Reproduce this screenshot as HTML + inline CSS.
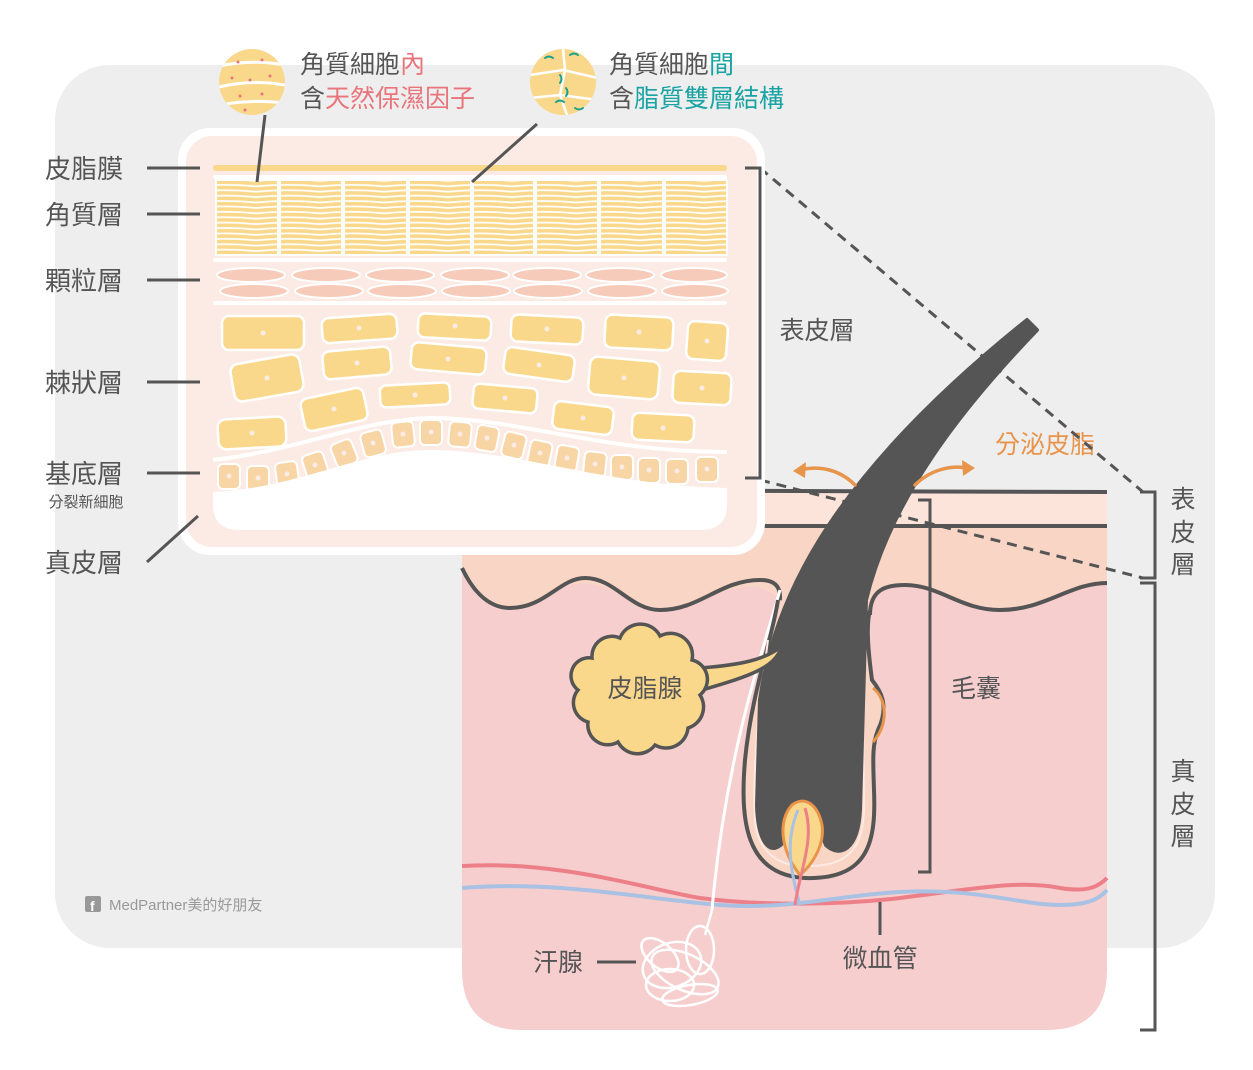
<!DOCTYPE html>
<html><head><meta charset="utf-8"><style>
html,body{margin:0;padding:0;background:#fff}
svg{display:block}
text{font-family:"Liberation Sans","Noto Sans CJK TC",sans-serif;fill:#555}
</style></head><body>
<svg width="1253" height="1070" viewBox="0 0 1253 1070" xmlns="http://www.w3.org/2000/svg">
<defs>
<pattern id="sc" x="0" y="180" width="64" height="5.4" patternUnits="userSpaceOnUse">
<rect width="64" height="5.4" fill="#fff"/>
<path d="M0,3.6 Q32,0.6 64,3.6" stroke="#fad88b" stroke-width="3.6" fill="none"/>
</pattern>
<clipPath id="c1"><circle cx="252" cy="82" r="33"/></clipPath>
<clipPath id="c2"><circle cx="563" cy="82" r="33"/></clipPath>
</defs>
<rect x="55" y="65" width="1160" height="883" rx="55" fill="#eeeeee"/>

<!-- skin block -->
<path d="M462,568 L462,490 L1107,490 L1107,970 Q1107,1030 1047,1030 L522,1030 Q462,1030 462,970 Z" fill="#f6cece"/>
<rect x="462" y="490" width="645" height="36" fill="#fde4da"/>
<path d="M462,526 L1107,526 L1107,583 C1060,585 1040,610 1000,608 C960,606 930,585 900,585 C880,585 872,595 870,610 L780,600 C760,580 740,585 700,600 C680,608 660,615 640,605 C610,590 600,580 570,585 C540,592 530,612 500,605 C480,600 470,580 462,568 Z" fill="#f9d5c5"/>
<path d="M462,568 C470,585 485,608 510,608 C545,608 560,578 585,578 C615,578 630,610 660,610 C700,610 720,580 760,580 C782,580 782,595 778,610" fill="none" stroke="#555" stroke-width="4"/>
<path d="M870,615 C870,590 885,585 905,585 C940,585 960,610 1000,610 C1045,610 1070,583 1107,583" fill="none" stroke="#555" stroke-width="4"/>
<line x1="462" y1="490" x2="1107" y2="492" stroke="#555" stroke-width="4"/>
<line x1="462" y1="526" x2="1107" y2="526" stroke="#555" stroke-width="4"/>

<!-- vessels -->
<path d="M462,866 C560,860 650,890 700,898 C760,906 840,905 900,898 C980,888 1020,880 1060,888 C1090,893 1100,885 1107,878" fill="none" stroke="#ec7f88" stroke-width="4"/>
<path d="M462,888 C560,880 650,900 720,905 C790,910 840,895 900,892 C980,888 1020,905 1060,905 C1090,905 1100,898 1107,890" fill="none" stroke="#a9c1e3" stroke-width="4"/>

<!-- sweat duct -->
<path d="M780,590 C760,660 725,760 712,910" fill="none" stroke="#fff" stroke-width="3"/>
<g fill="none" stroke="#fff" stroke-width="2.5">
<ellipse cx="672" cy="965" rx="30" ry="22" transform="rotate(-20 672 965)"/>
<ellipse cx="685" cy="972" rx="36" ry="18" transform="rotate(25 685 972)"/>
<ellipse cx="670" cy="985" rx="24" ry="16"/>
<ellipse cx="700" cy="950" rx="14" ry="24"/>
<ellipse cx="660" cy="955" rx="22" ry="12" transform="rotate(40 660 955)"/>
<ellipse cx="690" cy="995" rx="28" ry="10" transform="rotate(-10 690 995)"/>
<path d="M712,910 L705,935"/>
</g>

<!-- follicle -->
<path d="M778,600 C772,640 752,690 745,760 C740,820 745,875 805,878 C870,880 876,840 874,790 C873,760 872,745 878,730 C890,705 880,690 872,680 C868,650 866,625 870,610" fill="#f9d5c5" stroke="#555" stroke-width="4"/>
<path d="M768,640 C760,700 752,760 755,820 C758,860 790,868 810,866 C855,866 865,840 864,800 L862,650" fill="none" stroke="#fdeae3" stroke-width="2"/>
<path d="M873,688 C888,700 888,725 873,742" fill="none" stroke="#e8944a" stroke-width="3"/>
<!-- hair -->
<path d="M1027,320 L1037,330 C960,410 890,500 866,600 L860,810 C858,850 840,858 826,845 C815,812 790,812 785,840 C772,858 758,845 757,805 L760,700 C775,590 840,470 1027,320 Z" fill="#555" stroke="#555" stroke-width="4" stroke-linejoin="round"/>
<!-- papilla -->
<path d="M800,875 C780,850 778,820 792,805 C805,795 818,805 822,825 C825,845 812,865 800,875 Z" fill="#fad88b" stroke="#e8944a" stroke-width="3"/>
<path d="M800,905 C790,870 785,840 798,810" fill="none" stroke="#a9c1e3" stroke-width="3"/>
<path d="M795,905 C800,870 815,840 805,808" fill="none" stroke="#ec7f88" stroke-width="3"/>

<!-- sebaceous gland -->
<path d="M700,668 C740,665 765,660 782,646 C775,668 750,676 702,690 Z" fill="#fad88b" stroke="#555" stroke-width="3.5" stroke-linejoin="round"/>
<path d="M592,658 A20,20 0 0 1 620,638 A22,22 0 0 1 660,636 A22,22 0 0 1 692,660 A20,20 0 0 1 700,695 A22,22 0 0 1 688,728 A22,22 0 0 1 655,745 A22,22 0 0 1 618,742 A20,20 0 0 1 588,722 A20,20 0 0 1 578,690 A18,18 0 0 1 592,658 Z" fill="#fad88b" stroke="#555" stroke-width="3.5"/>
<text x="645" y="697" font-size="25" text-anchor="middle">皮脂腺</text>

<!-- 毛囊 bracket -->
<path d="M918,500 L930,500 L930,872 L918,872" fill="none" stroke="#555" stroke-width="3"/>
<text x="976" y="697" font-size="25" text-anchor="middle">毛囊</text>
<line x1="597" y1="962" x2="636" y2="962" stroke="#555" stroke-width="3"/>
<text x="558" y="971" font-size="25" text-anchor="middle">汗腺</text>
<line x1="880" y1="902" x2="880" y2="935" stroke="#555" stroke-width="3"/>
<text x="880" y="967" font-size="25" text-anchor="middle">微血管</text>

<!-- arrows -->
<g fill="none" stroke="#e8944a" stroke-width="3.5" stroke-linecap="round">
<path d="M855,485 C840,470 820,465 800,470"/>
<path d="M915,485 C930,470 950,465 968,468"/>
</g>
<path d="M793,471 L806,462 L805,478 Z" fill="#e8944a"/>
<path d="M975,468 L962,460 L963,476 Z" fill="#e8944a"/>
<text x="995" y="453" font-size="25" fill="#e8944a" style="fill:#e8944a">分泌皮脂</text>

<!-- dashed -->
<line x1="760" y1="168" x2="1143" y2="492" stroke="#555" stroke-width="3" stroke-dasharray="10,7"/>
<line x1="760" y1="480" x2="1143" y2="578" stroke="#555" stroke-width="3" stroke-dasharray="10,7"/>

<!-- right brackets -->
<path d="M1140,492 L1155,492 L1155,578 L1140,578" fill="none" stroke="#555" stroke-width="3"/>
<path d="M1140,583 L1155,583 L1155,1030 L1140,1030" fill="none" stroke="#555" stroke-width="3"/>
<g font-size="25" text-anchor="middle">
<text x="1183" y="508">表</text><text x="1183" y="541">皮</text><text x="1183" y="573">層</text>
<text x="1183" y="780">真</text><text x="1183" y="813">皮</text><text x="1183" y="845">層</text>
</g>

<!-- inset -->
<rect x="178" y="128" width="587" height="427" rx="32" fill="#fff"/>
<rect x="186" y="136" width="571" height="411" rx="26" fill="#fbebe4"/>
<rect x="213" y="165" width="514" height="6" rx="3" fill="#fad88b"/>
<rect x="213" y="175" width="514" height="4" rx="2" fill="#fff"/>
<g fill="url(#sc)" stroke="#fff" stroke-width="2">
<rect x="216" y="180" width="62" height="75"/><rect x="280" y="180" width="62" height="75"/>
<rect x="344" y="180" width="63" height="75"/><rect x="409" y="180" width="62" height="75"/>
<rect x="473" y="180" width="61" height="75"/><rect x="536" y="180" width="62" height="75"/>
<rect x="600" y="180" width="63" height="75"/><rect x="665" y="180" width="62" height="75"/>
</g>
<rect x="213" y="258" width="514" height="4" rx="2" fill="#fff"/>
<g fill="#f6cbb9" stroke="#fff" stroke-width="2">
<ellipse cx="251" cy="275" rx="34" ry="7"/><ellipse cx="326" cy="275" rx="34" ry="7"/><ellipse cx="400" cy="275" rx="34" ry="7"/><ellipse cx="475" cy="275" rx="34" ry="7"/><ellipse cx="547" cy="275" rx="34" ry="7"/><ellipse cx="620" cy="275" rx="34" ry="7"/><ellipse cx="694" cy="275" rx="33" ry="7"/>
<ellipse cx="254" cy="291" rx="34" ry="7"/><ellipse cx="329" cy="291" rx="34" ry="7"/><ellipse cx="402" cy="291" rx="34" ry="7"/><ellipse cx="476" cy="291" rx="34" ry="7"/><ellipse cx="548" cy="291" rx="34" ry="7"/><ellipse cx="622" cy="291" rx="34" ry="7"/><ellipse cx="695" cy="291" rx="33" ry="7"/>
</g>
<rect x="213" y="301" width="514" height="4" rx="2" fill="#fff"/>
<g fill="#fad88b" stroke="#fff" stroke-width="2.5">
<rect x="222" y="316" width="82" height="34" rx="7"/><rect x="322" y="316" width="75" height="25" rx="7" transform="rotate(-4 359 328)"/>
<rect x="418" y="315" width="73" height="24" rx="7" transform="rotate(3 455 327)"/><rect x="511" y="316" width="72" height="27" rx="7" transform="rotate(3 547 329)"/>
<rect x="605" y="316" width="68" height="33" rx="7" transform="rotate(3 639 332)"/><rect x="687" y="322" width="40" height="38" rx="7" transform="rotate(4 707 341)"/>
<rect x="232" y="359" width="70" height="38" rx="8" transform="rotate(-10 267 378)"/><rect x="323" y="349" width="68" height="28" rx="7" transform="rotate(-5 357 363)"/>
<rect x="411" y="345" width="75" height="27" rx="7" transform="rotate(5 448 359)"/><rect x="504" y="351" width="70" height="27" rx="7" transform="rotate(8 539 365)"/>
<rect x="589" y="359" width="70" height="38" rx="8" transform="rotate(5 624 378)"/><rect x="673" y="372" width="58" height="32" rx="7" transform="rotate(3 702 388)"/>
<rect x="218" y="418" width="68" height="30" rx="8" transform="rotate(-3 252 433)"/><rect x="302" y="393" width="64" height="33" rx="7" transform="rotate(-12 334 409)"/>
<rect x="380" y="384" width="70" height="22" rx="6" transform="rotate(-3 415 395)"/><rect x="473" y="386" width="64" height="25" rx="6" transform="rotate(5 505 398)"/>
<rect x="553" y="404" width="60" height="28" rx="7" transform="rotate(7 583 418)"/><rect x="632" y="414" width="62" height="27" rx="7" transform="rotate(3 663 428)"/>
</g>
<path d="M213,460 C300,450 360,420 430,418 C520,418 600,452 727,452" fill="none" stroke="#fff" stroke-width="4"/>
<g fill="#f8d5a5" stroke="#fff" stroke-width="2">
<rect x="218" y="464" width="22" height="25" rx="5"/><rect x="247" y="466" width="22" height="25" rx="5"/><rect x="276" y="462" width="22" height="25" rx="5" transform="rotate(-8 287 474)"/><rect x="304" y="453" width="22" height="25" rx="5" transform="rotate(-18 315 465)"/><rect x="333" y="441" width="22" height="25" rx="5" transform="rotate(-22 344 453)"/><rect x="362" y="431" width="22" height="25" rx="5" transform="rotate(-15 373 443)"/><rect x="392" y="422" width="22" height="25" rx="5" transform="rotate(-6 403 434)"/><rect x="420" y="420" width="22" height="25" rx="5"/><rect x="449" y="422" width="22" height="25" rx="5" transform="rotate(5 460 434)"/><rect x="476" y="426" width="22" height="25" rx="5" transform="rotate(10 487 438)"/><rect x="503" y="433" width="22" height="25" rx="5" transform="rotate(14 514 445)"/><rect x="529" y="441" width="22" height="25" rx="5" transform="rotate(12 540 453)"/><rect x="556" y="446" width="22" height="25" rx="5" transform="rotate(10 567 458)"/><rect x="584" y="452" width="22" height="25" rx="5" transform="rotate(6 595 464)"/><rect x="611" y="455" width="22" height="25" rx="5"/><rect x="638" y="458" width="22" height="25" rx="5"/><rect x="666" y="459" width="22" height="25" rx="5"/><rect x="696" y="457" width="22" height="25" rx="5"/>
</g>
<g fill="#fbebe4">
<circle cx="229" cy="476" r="2.5"/><circle cx="258" cy="478" r="2.5"/><circle cx="287" cy="474" r="2.5"/><circle cx="315" cy="465" r="2.5"/><circle cx="344" cy="453" r="2.5"/><circle cx="373" cy="443" r="2.5"/><circle cx="403" cy="434" r="2.5"/><circle cx="431" cy="432" r="2.5"/><circle cx="460" cy="434" r="2.5"/><circle cx="487" cy="438" r="2.5"/><circle cx="514" cy="445" r="2.5"/><circle cx="540" cy="453" r="2.5"/><circle cx="567" cy="458" r="2.5"/><circle cx="595" cy="464" r="2.5"/><circle cx="622" cy="467" r="2.5"/><circle cx="649" cy="470" r="2.5"/><circle cx="677" cy="471" r="2.5"/><circle cx="707" cy="469" r="2.5"/>
<circle cx="263" cy="333" r="2.5"/><circle cx="359" cy="328" r="2.5"/><circle cx="455" cy="326" r="2.5"/><circle cx="547" cy="329" r="2.5"/><circle cx="639" cy="332" r="2.5"/><circle cx="707" cy="341" r="2.5"/>
<circle cx="267" cy="378" r="2.5"/><circle cx="357" cy="363" r="2.5"/><circle cx="448" cy="359" r="2.5"/><circle cx="539" cy="365" r="2.5"/><circle cx="624" cy="378" r="2.5"/><circle cx="702" cy="388" r="2.5"/>
<circle cx="252" cy="433" r="2.5"/><circle cx="334" cy="409" r="2.5"/><circle cx="415" cy="395" r="2.5"/><circle cx="505" cy="398" r="2.5"/><circle cx="583" cy="418" r="2.5"/><circle cx="663" cy="428" r="2.5"/>
</g>
<path d="M213,492 C300,488 360,450 430,450 C520,450 600,485 727,488 L727,505 Q727,530 700,530 L240,530 Q213,530 213,505 Z" fill="#fff"/>

<!-- inset bracket -->
<path d="M745,168 L760,168 L760,478 L745,478" fill="none" stroke="#555" stroke-width="3"/>
<text x="817" y="339" font-size="25" text-anchor="middle">表皮層</text>

<!-- left labels -->
<g stroke="#555" stroke-width="3">
<line x1="147" y1="168" x2="200" y2="168"/><line x1="147" y1="214" x2="200" y2="214"/>
<line x1="147" y1="280" x2="200" y2="280"/><line x1="147" y1="382" x2="200" y2="382"/>
<line x1="147" y1="473" x2="200" y2="473"/><line x1="147" y1="562" x2="198" y2="516"/>
<line x1="265" y1="115" x2="257" y2="182"/><line x1="537" y1="124" x2="472" y2="182"/>
</g>
<g font-size="26" text-anchor="middle">
<text x="84" y="178">皮脂膜</text><text x="84" y="224">角質層</text><text x="84" y="290">顆粒層</text>
<text x="84" y="392">棘狀層</text><text x="84" y="483">基底層</text><text x="84" y="572">真皮層</text>
</g>
<text x="86" y="507" font-size="15" text-anchor="middle">分裂新細胞</text>

<!-- top circles -->
<circle cx="252" cy="82" r="33" fill="#fad88b"/>
<g clip-path="url(#c1)" fill="none" stroke="#fff" stroke-width="3">
<path d="M215,67 Q252,58 290,66"/><path d="M215,88 Q252,78 290,86"/><path d="M215,106 Q252,98 290,104"/>
</g>
<g fill="#e8747c"><circle cx="238" cy="62" r="1.5"/><circle cx="262" cy="60" r="1.5"/><circle cx="232" cy="78" r="1.5"/><circle cx="270" cy="76" r="1.5"/><circle cx="250" cy="80" r="1.5"/><circle cx="240" cy="96" r="1.5"/><circle cx="262" cy="94" r="1.5"/><circle cx="245" cy="110" r="1.5"/></g>
<circle cx="563" cy="82" r="33" fill="#fad88b"/>
<g clip-path="url(#c2)" fill="none" stroke="#fff" stroke-width="2.5">
<path d="M563,48 L565,70 L560,95 L568,118"/><path d="M530,75 L563,70 L598,78"/><path d="M530,98 L560,95 L598,100"/>
</g>
<g fill="none" stroke="#1aa38a" stroke-width="2" stroke-linecap="round">
<path d="M545,58 q4,-3 8,0"/><path d="M570,55 q4,-3 8,0"/><path d="M560,75 q3,4 0,8"/><path d="M556,102 q4,-3 8,0"/><path d="M575,108 q4,3 8,0"/><path d="M566,88 q3,4 0,8"/>
</g>
<g font-size="25">
<text x="300" y="73">角質細胞<tspan style="fill:#e8747c">內</tspan></text>
<text x="300" y="107">含<tspan style="fill:#e8747c">天然保濕因子</tspan></text>
<text x="609" y="73">角質細胞<tspan style="fill:#1aa3a3">間</tspan></text>
<text x="609" y="107">含<tspan style="fill:#1aa3a3">脂質雙層結構</tspan></text>
</g>

<!-- watermark -->
<rect x="85" y="896" width="16" height="16" rx="2" fill="#999"/>
<text x="90" y="911" font-size="14" style="fill:#fff" font-weight="bold">f</text>
<text x="109" y="910" font-size="15" style="fill:#999">MedPartner美的好朋友</text>
</svg>
</body></html>
